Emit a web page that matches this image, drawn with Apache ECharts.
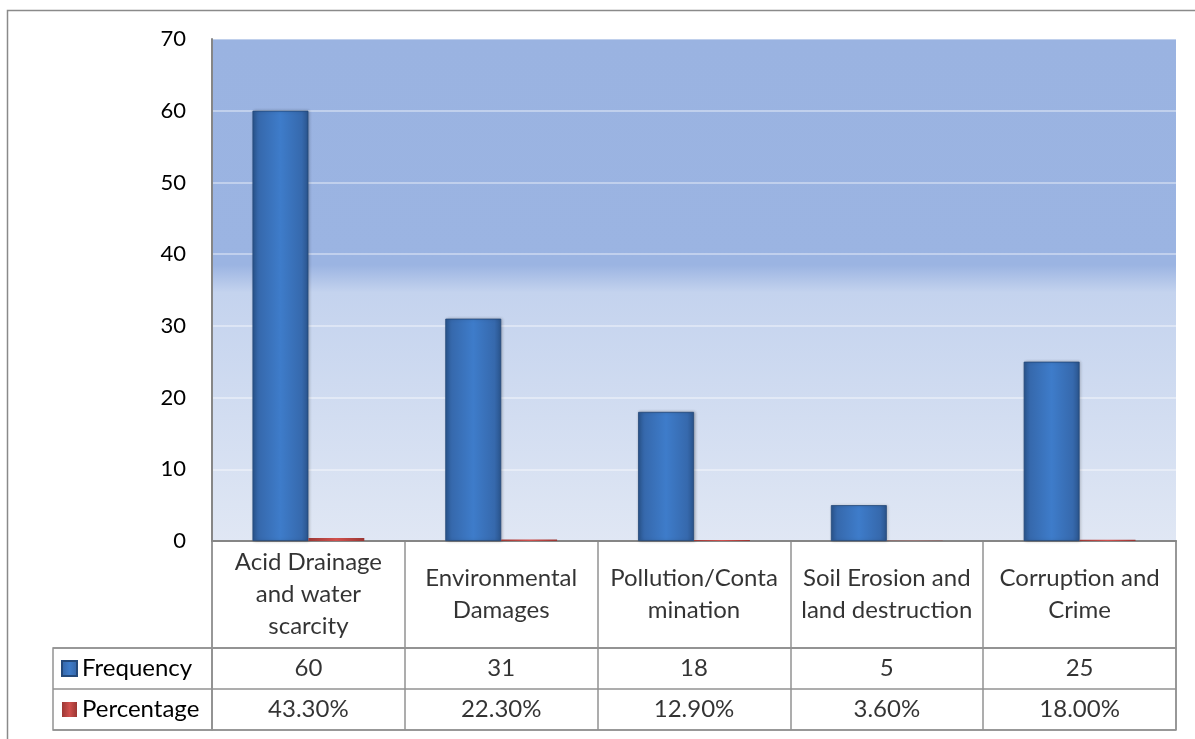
<!DOCTYPE html>
<html>
<head>
<meta charset="utf-8">
<script src="https://cdn.jsdelivr.net/npm/echarts@6/dist/echarts.min.js"></script>
<style>
  html, body { margin: 0; padding: 0; background: #ffffff; }
  #chart { width: 1195px; height: 739px; }
</style>
</head>
<body>
<div id="chart"></div>
<script>
// Category labels (line breaks as they wrap in the data table)
const categories = [
  'Acid Drainage\nand water\nscarcity',
  'Environmental\nDamages',
  'Pollution/Conta\nmination',
  'Soil Erosion and\nland destruction',
  'Corruption and\nCrime'
];
const seriesNames = ['Frequency', 'Percentage'];
const frequency = [60, 31, 18, 5, 25];
const percentage = [0.433, 0.223, 0.129, 0.036, 0.18];
const yMin = 0, yMax = 70, yStep = 10;

const FONT = 'Lato';
const FS = 24;      // table and legend text
const FS_AXIS = 22; // value axis labels
const LINE = '#929292';

const fmtPct = v => (v * 100).toFixed(2) + '%';

const blueFill = new echarts.graphic.LinearGradient(0, 0, 1, 0, [
  { offset: 0, color: '#2b5791' },
  { offset: 0.12, color: '#3669ad' },
  { offset: 0.5, color: '#3e7cca' },
  { offset: 0.88, color: '#3669ad' },
  { offset: 1, color: '#2a548c' }
]);
const redFill = new echarts.graphic.LinearGradient(0, 0, 1, 0, [
  { offset: 0, color: '#9c3835' },
  { offset: 0.5, color: '#d0504d' },
  { offset: 1, color: '#9a3633' }
]);
const plotBg = new echarts.graphic.LinearGradient(0, 0, 0, 1, [
  { offset: 0, color: '#9ab3e1' },
  { offset: 0.45, color: '#9bb4e2' },
  { offset: 0.505, color: '#c4d3ee' },
  { offset: 1, color: '#e0e7f4' }
]);

const hiddenAxis = {
  axisLine: { show: false }, axisTick: { show: false },
  axisLabel: { show: false }, splitLine: { show: false }
};
const tableSplit = { show: true, lineStyle: { color: LINE, width: 1.5 } };
const cellLabel = {
  show: true, position: 'inside', color: '#000',
  fontFamily: FONT, fontSize: FS, lineHeight: 32, align: 'center'
};

const chart = echarts.init(document.getElementById('chart'), null, { renderer: 'canvas' });

chart.setOption({
  animation: false,
  backgroundColor: '#ffffff',
  graphic: [{
    type: 'rect', silent: true, z: -10,
    shape: { x: 7.5, y: 10.5, width: 1400, height: 1000 },
    style: { fill: 'none', stroke: '#8a8a8a', lineWidth: 1.5 }
  }],
  legend: {
    orient: 'vertical', left: 61, top: 655.5, padding: 0,
    itemWidth: 15, itemHeight: 15, itemGap: 15,
    icon: 'rect', data: seriesNames,
    textStyle: { fontFamily: FONT, fontSize: FS, color: '#000', lineHeight: 26 },
    selectedMode: false
  },
  grid: [
    { left: 212, right: 19, top: 39, height: 502, show: true, backgroundColor: plotBg, borderWidth: 0 },
    { left: 212, right: 19, top: 541, height: 107, show: true, borderColor: LINE, borderWidth: 1.5 },
    { left: 212, right: 19, top: 648, height: 82, show: true, borderColor: LINE, borderWidth: 1.5 },
    { left: 53, width: 159, top: 648, height: 82, show: true, borderColor: LINE, borderWidth: 1.5 }
  ],
  xAxis: [
    { gridIndex: 0, type: 'category', data: categories,
      axisLine: { show: true, lineStyle: { color: '#868686', width: 2 } },
      axisTick: { show: false }, axisLabel: { show: false }, splitLine: { show: false } },
    Object.assign({ gridIndex: 1, type: 'category', data: categories }, hiddenAxis, { splitLine: tableSplit }),
    Object.assign({ gridIndex: 2, type: 'category', data: categories }, hiddenAxis, { splitLine: tableSplit }),
    Object.assign({ gridIndex: 3, type: 'value', min: 0, max: 1 }, hiddenAxis)
  ],
  yAxis: [
    { gridIndex: 0, type: 'value', min: yMin, max: yMax, interval: yStep,
      axisLine: { show: true, lineStyle: { color: '#868686', width: 2 } },
      axisTick: { show: false },
      axisLabel: { fontFamily: FONT, fontSize: FS_AXIS, color: '#000', margin: 26 },
      splitLine: { show: true, lineStyle: { color: 'rgba(255,255,255,0.38)', width: 2 } } },
    Object.assign({ gridIndex: 1, type: 'value', min: 0, max: 1 }, hiddenAxis),
    Object.assign({ gridIndex: 2, type: 'category', data: seriesNames, inverse: true }, hiddenAxis, { splitLine: tableSplit }),
    Object.assign({ gridIndex: 3, type: 'category', data: seriesNames, inverse: true }, hiddenAxis, { splitLine: tableSplit })
  ],
  series: [
    { name: 'Frequency', type: 'bar', xAxisIndex: 0, yAxisIndex: 0,
      data: frequency, barGap: '0%', barCategoryGap: '42%',
      itemStyle: { color: blueFill, borderColor: '#24497a', borderWidth: 0.8,
        shadowBlur: 3, shadowColor: 'rgba(0,0,0,0.25)', shadowOffsetX: 1 } },
    { name: 'Percentage', type: 'bar', xAxisIndex: 0, yAxisIndex: 0,
      data: percentage, barGap: '0%', barCategoryGap: '42%',
      itemStyle: { color: redFill } },
    // data table: category header row
    { type: 'scatter', xAxisIndex: 1, yAxisIndex: 1, silent: true, symbolSize: 0,
      data: categories.map((c, i) => [i, 0.5]),
      label: Object.assign({ formatter: p => categories[p.dataIndex] }, cellLabel) },
    // data table: frequency row
    { type: 'scatter', xAxisIndex: 2, yAxisIndex: 2, silent: true, symbolSize: 0,
      data: frequency.map((v, i) => [i, 0]),
      label: Object.assign({ formatter: p => String(frequency[p.dataIndex]) }, cellLabel) },
    // data table: percentage row
    { type: 'scatter', xAxisIndex: 2, yAxisIndex: 2, silent: true, symbolSize: 0,
      data: percentage.map((v, i) => [i, 1]),
      label: Object.assign({ formatter: p => fmtPct(percentage[p.dataIndex]) }, cellLabel) }
  ]
});
</script>
</body>
</html>
